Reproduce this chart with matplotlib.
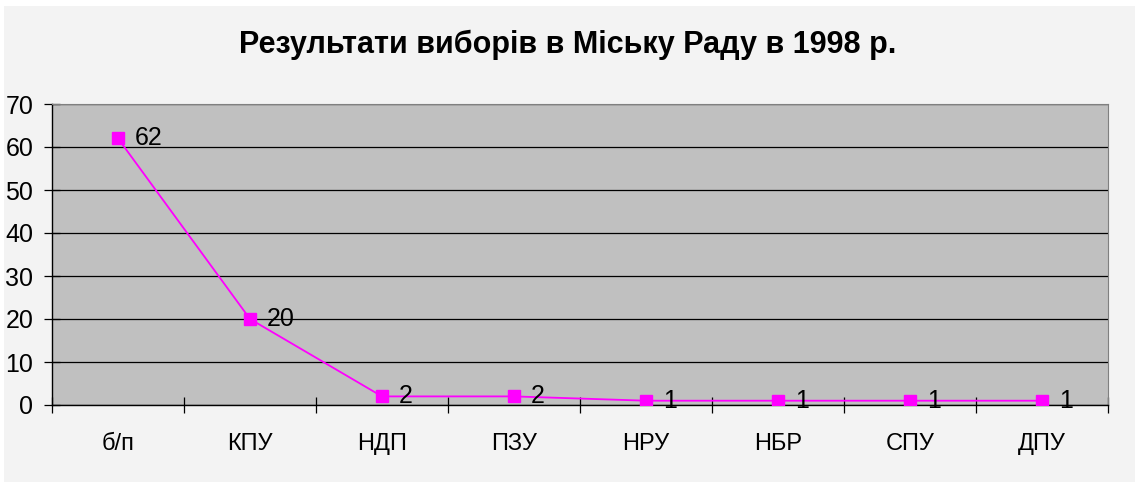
import matplotlib
matplotlib.use('Agg')
import matplotlib.pyplot as plt
from matplotlib.patches import Rectangle
from matplotlib.ticker import FixedLocator, NullFormatter

TITLE = 'Результати виборів в Міську Раду в 1998 р.'
PARTIES = ['б/п', 'КПУ', 'НДП', 'ПЗУ', 'НРУ', 'НБР', 'СПУ', 'ДПУ']
SEATS = [62, 20, 2, 2, 1, 1, 1, 1]
Y_TICKS = [0, 10, 20, 30, 40, 50, 60, 70]

plt.rcParams['font.family'] = ['Liberation Sans', 'DejaVu Sans']

fig = plt.figure(figsize=(11.35, 4.82), dpi=100, facecolor='white')
fig.patches.append(Rectangle((4 / 1135, 0), 1 - 4 / 1135, 1 - 6 / 482,
                             transform=fig.transFigure, facecolor='#f3f3f3',
                             edgecolor='none', zorder=-10))

ax = fig.add_axes([52 / 1135, 1 - 405 / 482, (1108 - 52) / 1135, (405 - 104) / 482])
ax.set_facecolor('#c0c0c0')

x = list(range(len(PARTIES)))
ax.plot(x, SEATS, color='#ff00ff', lw=1.3, marker='s', markersize=8,
        markerfacecolor='#ff00ff', markeredgecolor='#ff00ff', zorder=3)
for xi, v in zip(x, SEATS):
    ax.annotate(str(v), (xi, v), xytext=(12, 0), textcoords='offset points',
                va='center', ha='left', fontsize=18)

ax.set_xlim(-0.5, len(PARTIES) - 0.5)
ax.set_ylim(0, 70)
ax.set_yticks(Y_TICKS)
ax.yaxis.grid(True, color='black', lw=0.9)
ax.set_axisbelow(True)

ax.set_xticks(x)
ax.set_xticklabels(PARTIES, fontsize=17)
ax.tick_params(axis='x', which='major', length=0, pad=20)
ax.xaxis.set_minor_locator(FixedLocator([i - 0.5 for i in range(len(PARTIES) + 1)]))
ax.xaxis.set_minor_formatter(NullFormatter())
ax.tick_params(axis='x', which='minor', length=11, direction='inout', width=0.9)
ax.tick_params(axis='y', labelsize=18, length=11, direction='inout', width=0.9, pad=8)

for side in ['top', 'right']:
    ax.spines[side].set_color('#808080')
for side in ['left', 'bottom']:
    ax.spines[side].set_color('black')
    ax.spines[side].set_linewidth(1.0)

fig.text(0.5, 1 - 45 / 482, TITLE, ha='center', va='center',
         fontsize=22, fontweight='bold')

fig.savefig('out.png', dpi=100, facecolor=fig.get_facecolor())
